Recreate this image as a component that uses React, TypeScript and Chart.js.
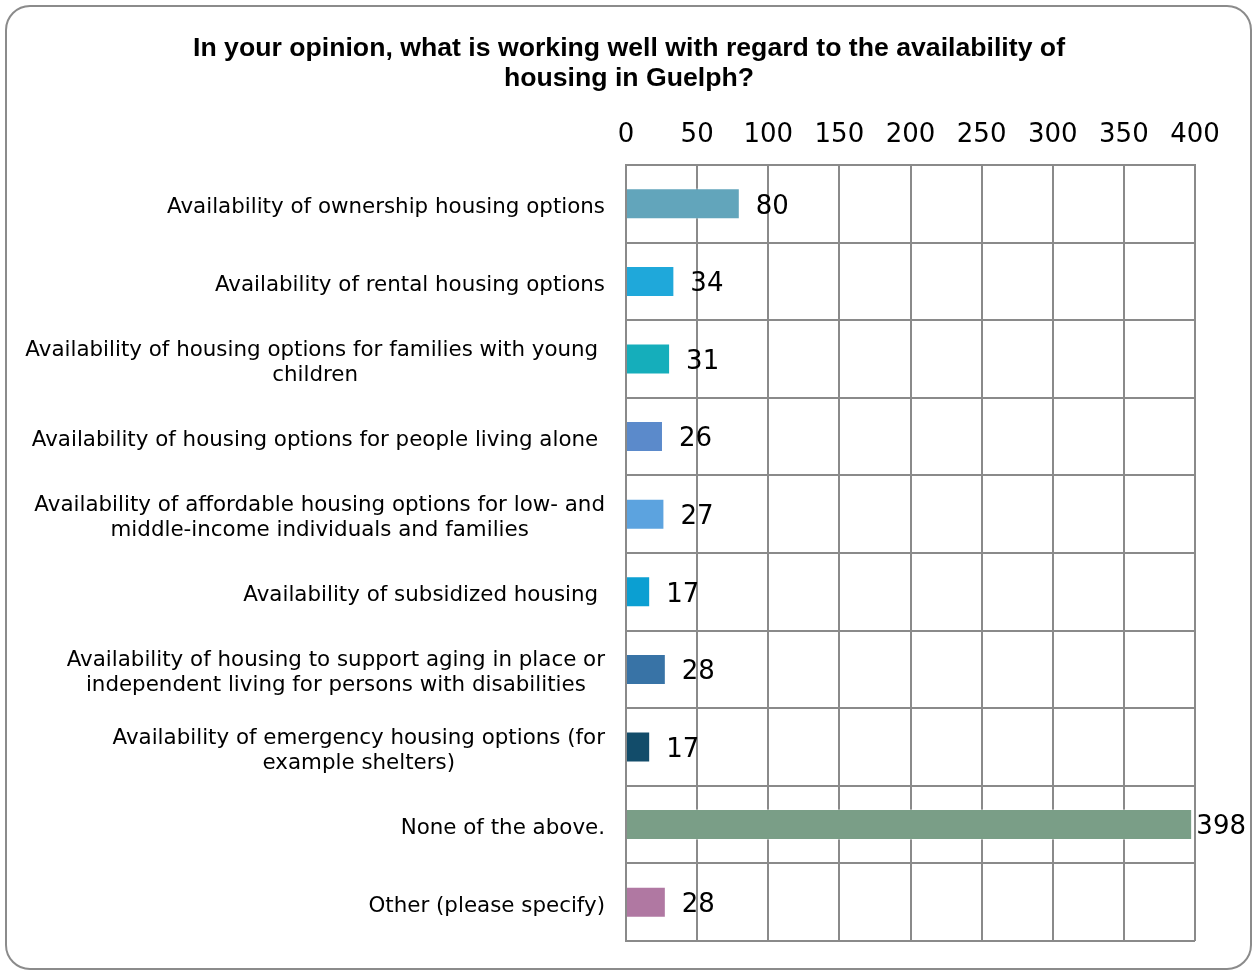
import React, { useEffect, useRef } from "react";
import { Chart, registerables } from "chart.js";

Chart.register(...registerables);

const titleLines = [
  "In your opinion, what is working well with regard to the availability of",
  "housing in Guelph?",
];

const categories: string[][] = [
  ["Availability of ownership housing options"],
  ["Availability of rental housing options"],
  ["Availability of housing options for families with young ", "children"],
  ["Availability of housing options for people living alone "],
  ["Availability of affordable housing options for low- and", "middle-income individuals and families"],
  ["Availability of subsidized housing "],
  ["Availability of housing to support aging in place or", "independent living for persons with disabilities"],
  ["Availability of emergency housing options (for", "example shelters)"],
  ["None of the above."],
  ["Other (please specify)"],
];

const values = [80, 34, 31, 26, 27, 17, 28, 17, 398, 28];

const barColors = [
  "#62a5bb",
  "#1fa8da",
  "#15aebb",
  "#5b8acb",
  "#5ca3df",
  "#0b9fd2",
  "#3873a6",
  "#124c6a",
  "#7a9e87",
  "#b078a2",
];

const xMin = 0;
const xMax = 400;
const xStep = 50;

const FONT = '"DejaVu Sans", Verdana, sans-serif';
const GRID = "#8a8a8a";

const labelPlugin = {
  id: "customLabels",
  afterDraw(chart: any) {
    const ctx = chart.ctx;
    const yScale = chart.scales.y;
    const area = chart.chartArea;
    ctx.save();

    // Title
    ctx.fillStyle = "#000";
    ctx.font = 'bold 25px "Liberation Sans", Arial, sans-serif';
    ctx.textAlign = "center";
    ctx.textBaseline = "alphabetic";
    const w0 = ctx.measureText(titleLines[0]).width;
    const sx = 872 / w0;
    titleLines.forEach((line, i) => {
      ctx.save();
      ctx.translate(629, 56 + i * 30);
      ctx.scale(sx, 1);
      ctx.fillText(line, 0, 0);
      ctx.restore();
    });

    // Category labels
    ctx.font = "21.4px " + FONT;
    ctx.textBaseline = "middle";
    ctx.textAlign = "center";
    const rightEdge = area.left - 21;
    const lh = 25;
    categories.forEach((lines, i) => {
      const cy = yScale.getPixelForValue(i) + 4;
      const bw = Math.max(...lines.map((l) => ctx.measureText(l).width));
      const cx = rightEdge - bw / 2;
      lines.forEach((l, j) => {
        ctx.fillText(l, cx, cy + (j - (lines.length - 1) / 2) * lh);
      });
    });

    // Value labels
    ctx.font = "26px " + FONT;
    ctx.textAlign = "left";
    const meta = chart.getDatasetMeta(0);
    meta.data.forEach((bar: any, i: number) => {
      const txt = String(values[i]);
      const tw = ctx.measureText(txt).width;
      let x = bar.x + 16;
      const maxX = chart.width - 10 - tw;
      if (x > maxX) x = Math.max(bar.x + 2, maxX);
      ctx.fillText(txt, x, bar.y + 3);
    });
    ctx.restore();
  },
};

export default function App() {
  const ref = useRef<HTMLCanvasElement | null>(null);
  useEffect(() => {
    if (!ref.current) return;
    const chart = new Chart(ref.current, {
      type: "bar",
      data: {
        labels: categories.map((c) => c.join(" ")),
        datasets: [
          {
            data: values,
            backgroundColor: barColors,
            borderColor: "rgba(255,255,255,0.35)",
            borderWidth: 1,
            barPercentage: 0.4,
            categoryPercentage: 1,
          },
        ],
      },
      options: {
        indexAxis: "y",
        animation: false,
        responsive: false,
        layout: { padding: { left: 0, top: 0, right: 61, bottom: 31 } },
        plugins: {
          legend: { display: false },
          title: { display: false },
          tooltip: { enabled: false },
        },
        scales: {
          x: {
            position: "top",
            min: xMin,
            max: xMax,
            ticks: {
              stepSize: xStep,
              color: "#000",
              font: { family: FONT, size: 26 },
              padding: 14,
            },
            grid: { color: GRID, lineWidth: 2, drawTicks: false },
            border: { display: true, color: GRID, width: 2 },
            afterFit: (s: any) => {
              s.height = 165;
            },
          },
          y: {
            type: "category",
            ticks: { display: false },
            grid: { color: GRID, lineWidth: 2, offset: true, drawTicks: false },
            border: { display: true, color: GRID, width: 2 },
            afterFit: (s: any) => {
              s.width = 626;
            },
          },
        },
      },
      plugins: [labelPlugin],
    });
    return () => chart.destroy();
  }, []);

  return (
    <div
      style={{
        position: "fixed",
        left: 0,
        top: 0,
        width: 1256,
        height: 972,
        background: "#fff",
      }}
    >
      <canvas ref={ref} width={1256} height={972} style={{ position: "absolute", left: 0, top: 0 }} />
      <div
        style={{
          position: "absolute",
          left: 5,
          top: 5,
          width: 1247,
          height: 965,
          boxSizing: "border-box",
          border: "2px solid #8b8b8b",
          borderRadius: 25,
          pointerEvents: "none",
        }}
      />
    </div>
  );
}
